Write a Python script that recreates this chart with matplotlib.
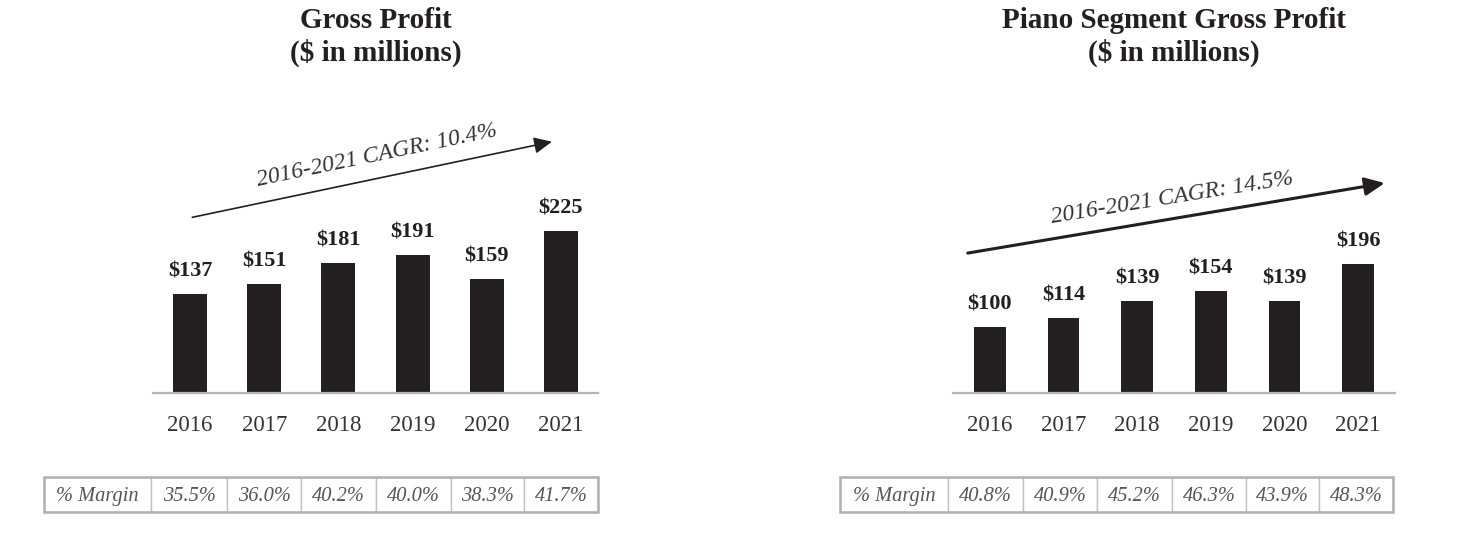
import numpy as np
import matplotlib
matplotlib.use("Agg")
import matplotlib.pyplot as plt
from matplotlib.patches import Rectangle

plt.rcParams["font.family"] = ["Liberation Serif", "DejaVu Serif"]

years = ["2016", "2017", "2018", "2019", "2020", "2021"]
gross_profit = [137, 151, 181, 191, 159, 225]
gross_margin = ["35.5%", "36.0%", "40.2%", "40.0%", "38.3%", "41.7%"]
piano_profit = [100, 114, 139, 154, 139, 196]
piano_margin = ["40.8%", "40.9%", "45.2%", "46.3%", "43.9%", "48.3%"]

W, H = 1482, 540
BAR = "#231f20"
GRID = "#b5b5b5"
TXT = "#333333"


def px_axes(fig, x0, y0, x1, y1):
    # pixel box (top-left origin) -> figure axes
    return fig.add_axes([x0 / W, 1 - y1 / H, (x1 - x0) / W, (y1 - y0) / H])


def bar_panel(fig, box, vals, ytop, width, title, cagr, arrow, rot):
    ax = px_axes(fig, *box)
    x = np.arange(len(vals))
    ax.bar(x, vals, width=width, color=BAR, zorder=2)
    for xi, v in zip(x, vals):
        ax.annotate(f"${v}", (xi, v), xytext=(0, 9), textcoords="offset points",
                    ha="center", va="bottom", fontsize=16, fontweight="bold",
                    color=BAR)
    ax.set_xlim(-0.5, len(vals) - 0.5)
    ax.set_ylim(0, ytop)
    ax.set_xticks(x)
    ax.set_xticklabels(years, fontsize=16.5, color=TXT)
    ax.tick_params(axis="x", length=0, pad=16)
    ax.set_yticks([])
    for s in ["top", "left", "right"]:
        ax.spines[s].set_visible(False)
    ax.spines["bottom"].set_color(GRID)
    ax.spines["bottom"].set_linewidth(1.6)
    ax.patch.set_alpha(0)

    # CAGR arrow + label
    (xs, ys), (xe, ye), lw, hw = arrow
    ax.annotate("", xy=(xe, ye), xytext=(xs, ys),
                arrowprops=dict(arrowstyle=f"-|>,head_length={hw*1.2},head_width={hw*0.55}",
                                color=BAR, lw=lw, shrinkA=0, shrinkB=0),
                annotation_clip=False)
    (tx, ty) = cagr[1]
    ax.text(tx, ty, cagr[0], rotation=rot, ha="center", va="center",
            fontsize=17, style="italic", color=TXT, rotation_mode="anchor")

    cx = (box[0] + box[2]) / 2 / W
    fig.text(cx, 1 - 37 / H, title, ha="center", va="center", fontsize=21,
             fontweight="bold", color=BAR, linespacing=1.17)
    return ax


def margin_table(fig, edges, y0, y1, margins):
    ax = px_axes(fig, edges[0], y0, edges[-1], y1)
    ax.set_xlim(edges[0], edges[-1])
    ax.set_ylim(0, 1)
    ax.axis("off")
    labels = ["% Margin"] + margins
    for i, lab in enumerate(labels):
        ax.add_patch(Rectangle((edges[i], 0), edges[i + 1] - edges[i], 1,
                               facecolor="white", edgecolor="#c2c2c2", lw=1.0))
        ax.text((edges[i] + edges[i + 1]) / 2, 0.44, lab, ha="center", va="center",
                fontsize=14.7, style="italic", color="#555555")
    ax.add_patch(Rectangle((edges[0], 0), edges[-1] - edges[0], 1, fill=False,
                           edgecolor="#b0b0b0", lw=1.8, clip_on=False))


fig = plt.figure(figsize=(W / 100, H / 100), dpi=100)

bar_panel(fig, (153, 100, 598, 393), gross_profit, 293 / 0.72, 0.46,
          "Gross Profit\n($ in millions)",
          ("2016-2021 CAGR: 10.4%", (2.52, 330)),
          ((0.03, 244), (4.88, 349), 1.2, 0.9), 11.8)
bar_panel(fig, (953, 100, 1395, 393), piano_profit, 293 / 0.66, 0.43,
          "Piano Segment Gross Profit\n($ in millions)",
          ("2016-2021 CAGR: 14.5%", (2.48, 295)),
          ((-0.3, 212), (5.36, 318), 2.2, 1.0), 9.2)

margin_table(fig, [44, 151, 227, 301, 376, 451, 524, 598], 477, 512, gross_margin)
margin_table(fig, [840, 948, 1023, 1097, 1172, 1246, 1319, 1393], 477, 512, piano_margin)

fig.savefig("out.png", dpi=100, facecolor="white")
